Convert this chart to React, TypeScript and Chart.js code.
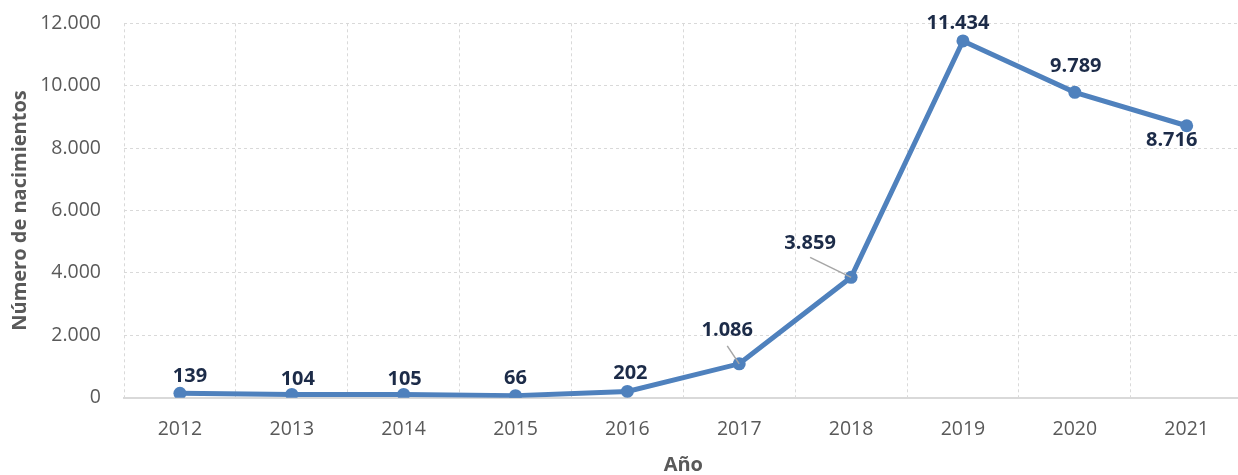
import React, { useEffect, useRef } from "react";
import { Chart, registerables } from "chart.js";

Chart.register(...registerables);

const years = ["2012", "2013", "2014", "2015", "2016", "2017", "2018", "2019", "2020", "2021"];
const births = [139, 104, 105, 66, 202, 1086, 3859, 11434, 9789, 8716];
const yTickMax = 12000;
const yTickStep = 2000;

// label placement (dx, dy of label centre relative to point), and optional leader line start
const labelDx = [10, 6, 1, 0, 3, -12, -41, -5, 1, -15];
const labelDy = [-19, -17, -17, -19, -20, -35, -35, -19, -27, 13.5];
const leaderFrom: (null | [number, number])[] = [null, null, null, null, null, [-12, -18], [-41, -20], null, null, null];

const fmt = (v: number) => String(v).replace(/\B(?=(\d{3})+(?!\d))/g, ".");

const FONT = "'Open Sans', 'DejaVu Sans', sans-serif";

const labelPlugin = {
  id: "pointLabels",
  afterDatasetsDraw(chart: any) {
    const ctx = chart.ctx;
    const meta = chart.getDatasetMeta(0);
    ctx.save();
    meta.data.forEach((pt: any, i: number) => {
      const lf = leaderFrom[i];
      if (lf) {
        ctx.strokeStyle = "#a6a6a6";
        ctx.lineWidth = 1.5;
        ctx.beginPath();
        ctx.moveTo(pt.x + lf[0], pt.y + lf[1]);
        ctx.lineTo(pt.x, pt.y);
        ctx.stroke();
      }
    });
    ctx.font = `bold 20px ${FONT}`;
    ctx.fillStyle = "#1c2b48";
    ctx.textAlign = "center";
    ctx.textBaseline = "alphabetic";
    meta.data.forEach((pt: any, i: number) => {
      ctx.fillText(fmt(births[i]), pt.x + labelDx[i], pt.y + labelDy[i] + 0.357 * 20);
    });
    ctx.restore();
  },
};

export default function App() {
  const ref = useRef<HTMLCanvasElement | null>(null);
  useEffect(() => {
    if (!ref.current) return;
    const chart = new Chart(ref.current, {
      type: "line",
      data: {
        labels: years,
        datasets: [
          {
            data: births,
            borderColor: "#4f81bd",
            backgroundColor: "#4f81bd",
            borderWidth: 5,
            pointRadius: 6.5,
            pointBorderWidth: 0,
            pointBackgroundColor: "#4f81bd",
            tension: 0,
          },
        ],
      },
      options: {
        responsive: false,
        animation: false,
        layout: { autoPadding: false, padding: { top: 23.3, right: 1.4, bottom: 0, left: 0 } },
        plugins: { legend: { display: false }, tooltip: { enabled: false } },
        scales: {
          x: {
            offset: true,
            grid: {
              offset: true,
              color: "#d9d9d9",
              lineWidth: 1,
              drawTicks: true,
              tickLength: 20,
              tickColor: "rgba(0,0,0,0)",
            },
            border: { display: true, color: "#d9d9d9", width: 2, dash: [3, 3] },
            ticks: { color: "#595959", font: { family: FONT, size: 19.5 }, padding: 0 },
            title: {
              display: true,
              text: "Año",
              color: "#595959",
              font: { family: FONT, size: 20, weight: "bold", lineHeight: 1 },
              padding: { top: 0, bottom: 0 },
            },
            afterFit: (s: any) => {
              s.height = 77.3;
              s.paddingLeft = 0;
              s.paddingRight = 0;
            },
          },
          y: {
            min: 0,
            max: yTickMax,
            ticks: {
              stepSize: yTickStep,
              color: "#595959",
              font: { family: FONT, size: 19.5 },
              padding: 0,
              callback: (v: any) => fmt(Number(v)),
            },
            grid: {
              color: "#d9d9d9",
              lineWidth: 1,
              drawTicks: true,
              tickLength: 23,
              tickColor: "rgba(0,0,0,0)",
            },
            border: { display: false, dash: [3, 3] },
            title: {
              display: true,
              text: "Número de nacimientos",
              color: "#595959",
              font: { family: FONT, size: 20, weight: "bold", lineHeight: 1 },
              padding: { top: 10.5, bottom: 0 },
            },
            afterFit: (s: any) => {
              s.width = 124;
            },
          },
        },
      },
      plugins: [labelPlugin],
    } as any);
    return () => chart.destroy();
  }, []);
  return (
    <div style={{ position: "fixed", left: 0, top: 0, width: 1238, height: 475, overflow: "hidden", background: "#fff" }}>
      <div style={{ width: 1244, height: 475 }}>
        <canvas ref={ref} width={1244} height={475} style={{ display: "block" }} />
      </div>
    </div>
  );
}
